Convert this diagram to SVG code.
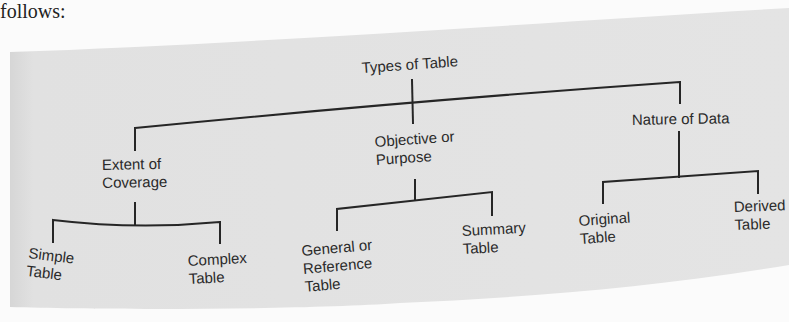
<svg xmlns="http://www.w3.org/2000/svg" width="789" height="322" viewBox="0 0 789 322">
<style>
.t{font-family:"Liberation Sans",Arial,sans-serif;font-size:15px;fill:#2a2a2a}
.c{fill:none;stroke:#262626;stroke-width:2;stroke-linecap:square}
</style>
<defs>
<linearGradient id="band" x1="0" y1="0" x2="1" y2="0">
<stop offset="0" stop-color="#d6d6d6"/>
<stop offset="0.03" stop-color="#e1e1e1"/>
<stop offset="1" stop-color="#e4e4e4"/>
</linearGradient>
</defs>
<rect width="789" height="322" fill="#fbfbfb"/>
<path d="M10,52 C250,44 550,22 789,8 L789,265 C650,288 520,298 400,303 C300,310 100,310 10,307 Z" fill="url(#band)"/>
<text x="0" y="18" font-family="Liberation Serif,serif" font-size="20" fill="#222">follows:</text>
<g id="connectors">
<path class="c" d="M412,80 L413,123"/>
<path class="c" d="M135,150 L135,128 Q420,100 680,82 L680,103"/>
<path class="c" d="M135,203 L135,225"/>
<path class="c" d="M53,242 L53,220 Q136,230 220,222 L220,243"/>
<path class="c" d="M415,180 L415,200"/>
<path class="c" d="M337,230 L337,209 L492,192 L492,215"/>
<path class="c" d="M679,132 L679,177"/>
<path class="c" d="M603,203 L603,182 L758,171 L758,193"/>
</g>
<g id="types"><text class="t" transform="translate(362,73) rotate(-4)">Types of Table</text></g>
<g id="extent"><text class="t" transform="translate(102,170) rotate(-1)"><tspan x="0" y="0">Extent of</tspan><tspan x="0" y="18">Coverage</tspan></text></g>
<g id="objective"><text class="t" transform="translate(375,147) rotate(-4)"><tspan x="0" y="0">Objective or</tspan><tspan x="0" y="18">Purpose</tspan></text></g>
<g id="nature"><text class="t" transform="translate(632,125) rotate(-1)">Nature of Data</text></g>
<g id="simple"><text class="t" transform="translate(28,258) rotate(7)"><tspan x="0" y="0">Simple</tspan><tspan x="0" y="18">Table</tspan></text></g>
<g id="complex"><text class="t" transform="translate(188,266) rotate(-3)"><tspan x="0" y="0">Complex</tspan><tspan x="0" y="18">Table</tspan></text></g>
<g id="general"><text class="t" transform="translate(302,256) rotate(-5)"><tspan x="0" y="0">General or</tspan><tspan x="0" y="18">Reference</tspan><tspan x="0" y="36">Table</tspan></text></g>
<g id="summary"><text class="t" transform="translate(462,236) rotate(-3)"><tspan x="0" y="0">Summary</tspan><tspan x="0" y="18">Table</tspan></text></g>
<g id="original"><text class="t" transform="translate(579,226) rotate(-4)"><tspan x="0" y="0">Original</tspan><tspan x="0" y="18">Table</tspan></text></g>
<g id="derived"><text class="t" transform="translate(734,212) rotate(-2)"><tspan x="0" y="0">Derived</tspan><tspan x="0" y="18">Table</tspan></text></g>
</svg>
